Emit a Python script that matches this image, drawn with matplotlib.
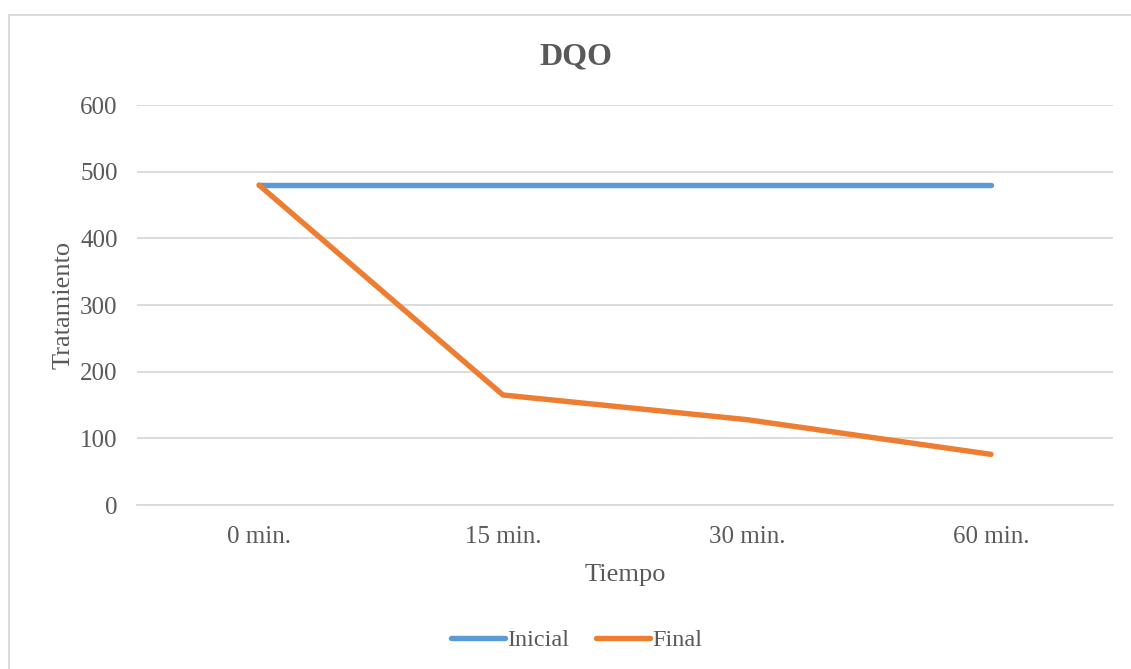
import matplotlib
matplotlib.use("Agg")
import matplotlib.pyplot as plt
from matplotlib.patches import Rectangle
from matplotlib.lines import Line2D

categories = ["0 min.", "15 min.", "30 min.", "60 min."]
inicial = [480, 480, 480, 480]
final = [480, 165, 128, 76]
yticks = [0, 100, 200, 300, 400, 500, 600]

plt.rcParams['font.family'] = ['Liberation Serif', 'DejaVu Serif']
W, H = 1131, 669
fig = plt.figure(figsize=(W/100, H/100), dpi=100)
txt = '#595959'

ax = fig.add_axes([137/W, 1-505/H, (1113-137)/W, (505-105)/H])
x = list(range(len(categories)))
ax.plot(x, inicial, color='#5B9BD5', lw=3.9, solid_capstyle='round', solid_joinstyle='round', label='Inicial', zorder=3)
ax.plot(x, final, color='#ED7D31', lw=3.9, solid_capstyle='round', solid_joinstyle='round', label='Final', zorder=3)
ax.set_xlim(-0.5, 3.5)
ax.set_ylim(0, 600)
ax.set_yticks(yticks)
ax.set_xticks(x)
ax.set_xticklabels(categories)
ax.grid(axis='y', color='#D9D9D9', lw=1.3)
ax.set_axisbelow(True)
for s in ['top', 'right', 'left']:
    ax.spines[s].set_visible(False)
ax.spines['bottom'].set_color('#D9D9D9')
ax.spines['bottom'].set_linewidth(1.3)
ax.tick_params(length=0, labelsize=18, colors=txt)
ax.tick_params(axis='y', pad=14)
ax.tick_params(axis='x', pad=15)
ax.set_xlabel('Tiempo', fontsize=19, color=txt, labelpad=12)
ax.set_ylabel('Tratamiento', fontsize=19, color=txt, labelpad=4)
fig.text(576/W, 1-57/H, 'DQO', fontsize=23, fontweight='bold', color=txt, ha='center', va='center')

fig.patches.append(Rectangle((8.5/W, -0.1), 2, (H-15)/H + 0.1, transform=fig.transFigure,
                             fill=False, edgecolor='#D9D9D9', lw=1.3))

leg = fig.legend(handles=[Line2D([0], [0], color='#5B9BD5', lw=3.9, solid_capstyle='round'),
                          Line2D([0], [0], color='#ED7D31', lw=3.9, solid_capstyle='round')],
                 labels=['Inicial', 'Final'], loc='center', bbox_to_anchor=(577/W, 1-640/H),
                 ncol=2, frameon=False, fontsize=17.5, handlelength=2.2, handletextpad=0.12,
                 columnspacing=1.1)
for t in leg.get_texts():
    t.set_color(txt)

fig.savefig('out.png', dpi=100)
